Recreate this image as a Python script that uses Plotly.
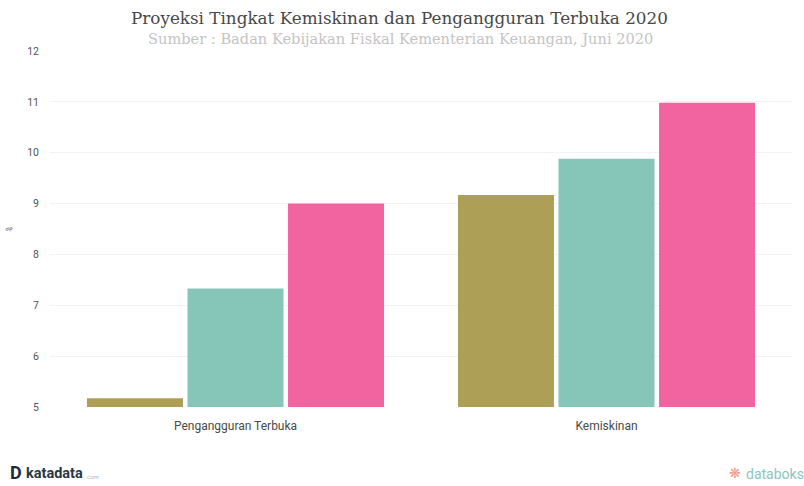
import plotly.graph_objects as go

categories = ["Pengangguran Terbuka", "Kemiskinan"]
series_names = ["Sebelum Covid-19", "Skenario Berat", "Skenario Sangat Berat"]
series_values = [
    [5.17, 9.17],
    [7.33, 9.88],
    [9.0, 10.98],
]
series_colors = ["#ad9f56", "#86c6b9", "#f2649f"]
y_ticks = [5, 6, 7, 8, 9, 10, 11, 12]

title_text = "Proyeksi Tingkat Kemiskinan dan Pengangguran Terbuka 2020"
subtitle_text = "Sumber : Badan Kebijakan Fiskal Kementerian Keuangan, Juni 2020"

PLOT_LEFT, PLOT_WIDTH, PLOT_BOTTOM, PLOT_HEIGHT = 50, 742, 407, 356

fig = go.Figure()
for name, values, color in zip(series_names, series_values, series_colors):
    fig.add_trace(go.Bar(name=name, x=categories, y=values, marker=dict(color=color, line_width=0)))

fig.update_layout(
    width=804,
    height=486,
    paper_bgcolor="white",
    plot_bgcolor="white",
    showlegend=False,
    barmode="group",
    bargap=0.187,
    bargroupgap=0.045,
    margin=dict(l=PLOT_LEFT, r=804 - PLOT_LEFT - PLOT_WIDTH, t=PLOT_BOTTOM - PLOT_HEIGHT, b=486 - PLOT_BOTTOM),
    font=dict(family="Roboto, sans-serif", size=10, color="#4a4a4a"),
)


# Title, subtitle and brand marks sit at fixed page positions around the plot
def page_text(text, px, py, size, color, family, anchor="center", weight="normal", angle=0):
    fig.add_annotation(
        text=text,
        x=(px - PLOT_LEFT) / PLOT_WIDTH,
        y=(PLOT_BOTTOM - py) / PLOT_HEIGHT,
        xref="paper",
        yref="paper",
        showarrow=False,
        xanchor=anchor,
        yanchor="middle",
        textangle=angle,
        font=dict(size=size, color=color, family=family, weight=weight),
    )


page_text(title_text, 399, 18, 16.8, "#484848", "DejaVu Serif")
page_text(subtitle_text, 400, 39, 14.6, "#c4c4c4", "DejaVu Serif")
page_text("D", 16, 472, 18, "#1e2a3a", "Roboto", weight="bold")
page_text("katadata", 54, 473, 14.5, "#2b3645", "Roboto", weight="bold")
page_text("com", 93, 476, 6, "#b5b5b5", "Roboto")
page_text("databoks", 775, 474, 14, "#8cc5c0", "Roboto")
page_text("❋", 735, 473, 14, "#ef9a8c", "DejaVu Sans")
page_text("%", 9, 229, 8, "#555555", "Roboto", angle=-60)

fig.update_xaxes(showgrid=False, showline=False, ticks="", tickfont=dict(size=12, color="#4a4a4a"), ticklabelstandoff=10)
fig.update_yaxes(
    range=[5, 12],
    tickvals=y_ticks,
    showgrid=True,
    gridcolor="#f3f3f3",
    gridwidth=1,
    zeroline=False,
    showline=False,
    ticks="",
    ticklabelstandoff=10,
    tickfont=dict(size=10.5, color="#555555"),
)

fig.write_html("out.html")
